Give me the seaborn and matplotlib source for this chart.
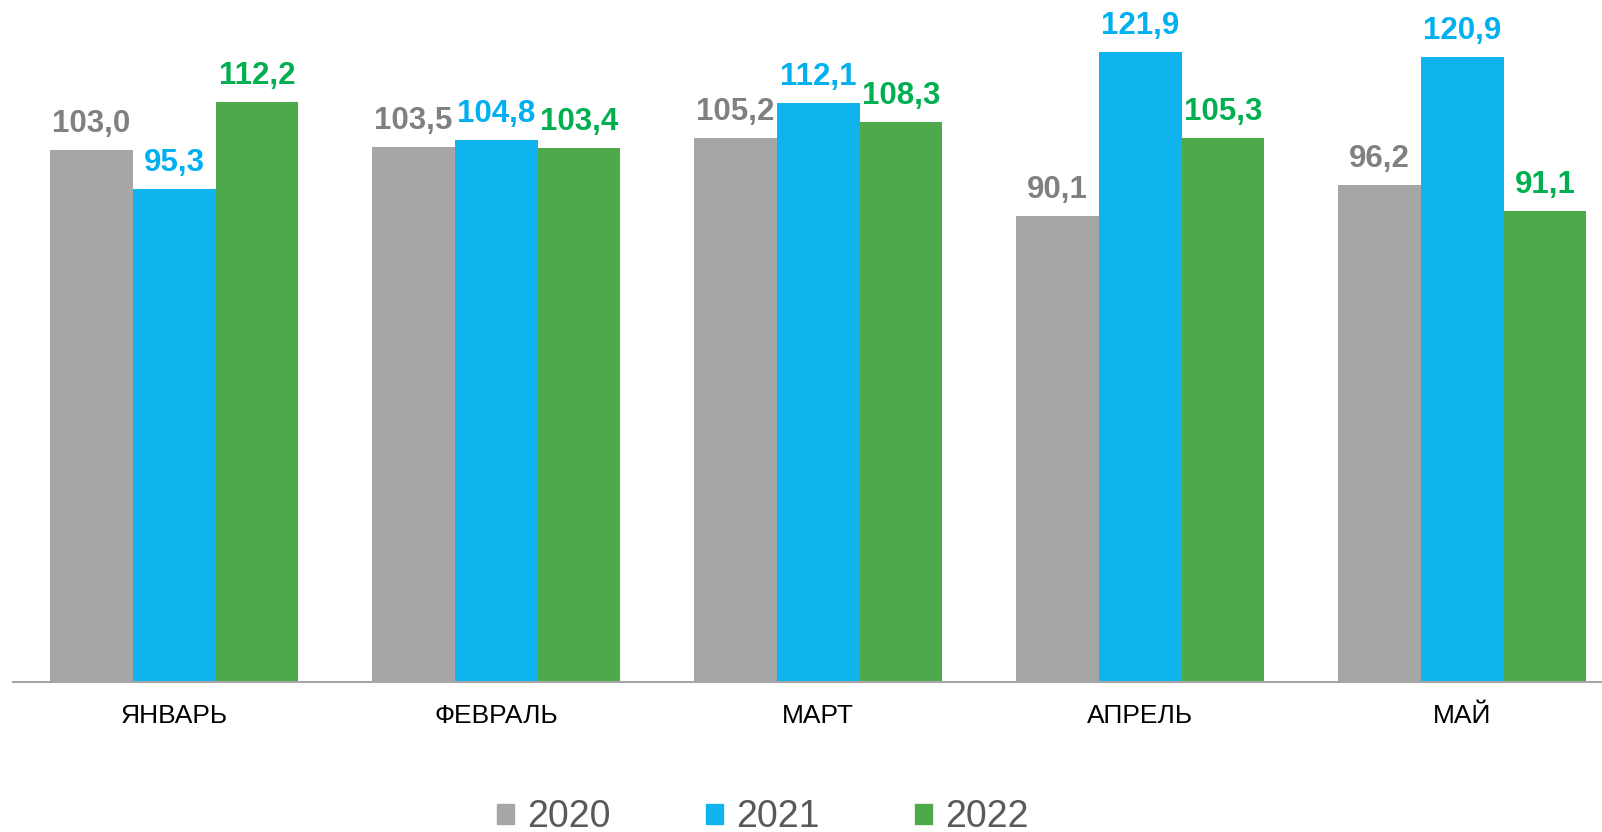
import seaborn as sns
import matplotlib.pyplot as plt
import pandas as pd

months = ["ЯНВАРЬ", "ФЕВРАЛЬ", "МАРТ", "АПРЕЛЬ", "МАЙ"]
years = ["2020", "2021", "2022"]
vals_2020 = [103.0, 103.5, 105.2, 90.1, 96.2]
vals_2021 = [95.3, 104.8, 112.1, 121.9, 120.9]
vals_2022 = [112.2, 103.4, 108.3, 105.3, 91.1]

bar_colors = ["#A6A6A6", "#0FB4EF", "#4EA94B"]
text_colors = ["#808080", "#00B0F0", "#00B050"]

sns.set_theme(style="white")
plt.rcParams['font.family'] = ['Liberation Sans', 'DejaVu Sans']

df = pd.DataFrame({
    "month": months * 3,
    "year": [y for y in years for _ in months],
    "value": vals_2020 + vals_2021 + vals_2022,
})

fig = plt.figure(figsize=(16.02, 8.32), dpi=100)
ax = fig.add_axes([13.2 / 1602, 1 - 681.5 / 832, 1610 / 1602, 681.5 / 832])

sns.barplot(data=df, x="month", y="value", hue="year", palette=bar_colors,
            width=0.77, saturation=1, linewidth=0, ax=ax, legend=False)

for cont, col in zip(ax.containers, text_colors):
    labels = [f"{b.get_height():.1f}".replace(".", ",") for b in cont]
    ax.bar_label(cont, labels=labels, padding=8, color=col,
                 fontsize=22.5, fontweight="bold")

ax.set_xlim(-0.5, 4.5)
ax.set_ylim(0, 132)
ax.set_xlabel("")
ax.set_ylabel("")
ax.set_yticks([])
ax.tick_params(axis="x", length=0, pad=16, labelsize=19, labelcolor="#000000")
for s in ["top", "right", "left"]:
    ax.spines[s].set_visible(False)
ax.spines["bottom"].set_color("#A6A6A6")
ax.spines["bottom"].set_linewidth(1.5)

handles = [plt.Rectangle((0, 0), 1, 1, color=c) for c in bar_colors]
leg = fig.legend(handles, years, loc="center", bbox_to_anchor=(0.476, 1 - 817 / 832),
                 ncol=3, frameon=False, fontsize=27, handlelength=0.45,
                 handleheight=0.45, handletextpad=0.35, columnspacing=2.55)
for t in leg.get_texts():
    t.set_color("#595959")

fig.savefig("out.png", dpi=100)
